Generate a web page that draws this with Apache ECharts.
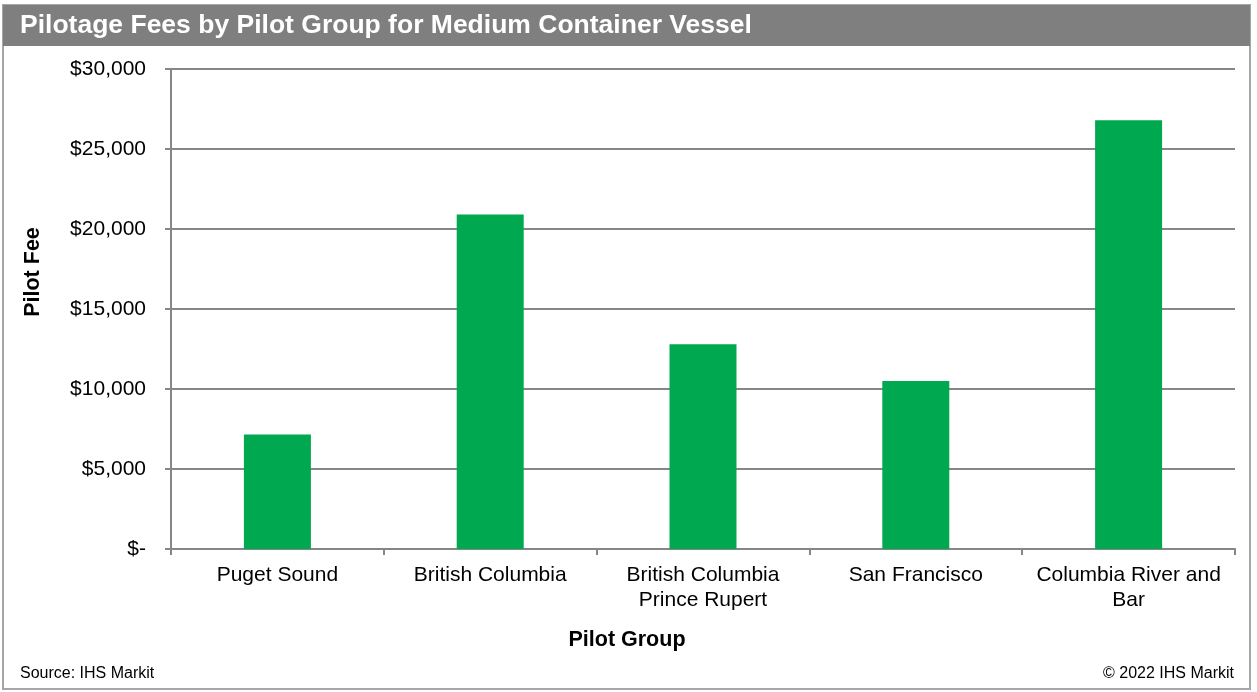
<!DOCTYPE html>
<html>
<head>
<meta charset="utf-8">
<script src="https://cdn.jsdelivr.net/npm/echarts@6/dist/echarts.min.js"></script>
<style>
  html, body { margin: 0; padding: 0; background: #fff; }
  #main { width: 1257px; height: 692px; }
</style>
</head>
<body>
<div id="main"></div>
<script>
// pilot groups and fees (USD)
var groups = ['Puget Sound', 'British Columbia', 'British Columbia\nPrince Rupert', 'San Francisco', 'Columbia River and\nBar'];
var fees = [7150, 20900, 12800, 10500, 26800];
var yTicks = [0, 5000, 10000, 15000, 20000, 25000, 30000];

var font = 'Liberation Sans, Arial, sans-serif';

var myChart = echarts.init(document.getElementById('main'));

function money(v) {
  if (v === 0) return '$-';
  return '$' + v.toLocaleString('en-US');
}

var option = {
  animation: false,
  textStyle: { fontFamily: font },
  grid: { left: 171, right: 22, top: 69, bottom: 143 },
  graphic: [
    { type: 'rect', shape: { x: 3, y: 5, width: 1247, height: 684 },
      style: { fill: 'none', stroke: '#a6a6a6', lineWidth: 2 } },
    { type: 'rect', shape: { x: 3, y: 5, width: 1247, height: 41 },
      style: { fill: '#7f7f7f' } },
    { type: 'text', x: 20, y: 26,
      style: { text: 'Pilotage Fees by Pilot Group for Medium Container Vessel', fill: '#fff',
               font: 'bold 26.5px ' + font, verticalAlign: 'middle' } },
    { type: 'text', x: 20, y: 674,
      style: { text: 'Source: IHS Markit', fill: '#000', font: '16px ' + font, verticalAlign: 'middle' } },
    { type: 'text', x: 1234, y: 674,
      style: { text: '© 2022 IHS Markit', fill: '#000', font: '16px ' + font, align: 'right', verticalAlign: 'middle' } },
    { type: 'text', x: 627, y: 640,
      style: { text: 'Pilot Group', fill: '#000', font: 'bold 21.5px ' + font, align: 'center', verticalAlign: 'middle' } },
    { type: 'text', x: 33, y: 272, rotation: Math.PI / 2,
      style: { text: 'Pilot Fee', fill: '#000', font: 'bold 21.5px ' + font, align: 'center', verticalAlign: 'middle' } }
  ],
  xAxis: {
    type: 'category',
    data: groups,
    axisLine: { lineStyle: { color: '#868686', width: 2 } },
    axisTick: { show: true, length: 6, interval: 0, lineStyle: { color: '#868686', width: 2 } },
    axisLabel: { interval: 0, color: '#000', fontSize: 21, margin: 14, lineHeight: 25, fontFamily: font }
  },
  yAxis: {
    type: 'value',
    min: 0,
    max: 30000,
    interval: 5000,
    axisLine: { show: true, lineStyle: { color: '#868686', width: 2 } },
    axisTick: { show: true, length: 6, lineStyle: { color: '#868686', width: 2 } },
    splitLine: { lineStyle: { color: '#868686', width: 2 } },
    axisLabel: {
      color: '#000', fontSize: 21, margin: 25, fontFamily: font,
      formatter: function (v) { return yTicks.indexOf(v) >= 0 ? money(v) : ''; }
    }
  },
  series: [{
    type: 'bar',
    data: fees,
    barWidth: 67,
    itemStyle: { color: '#00a84f' }
  }]
};

myChart.setOption(option);
</script>
</body>
</html>
